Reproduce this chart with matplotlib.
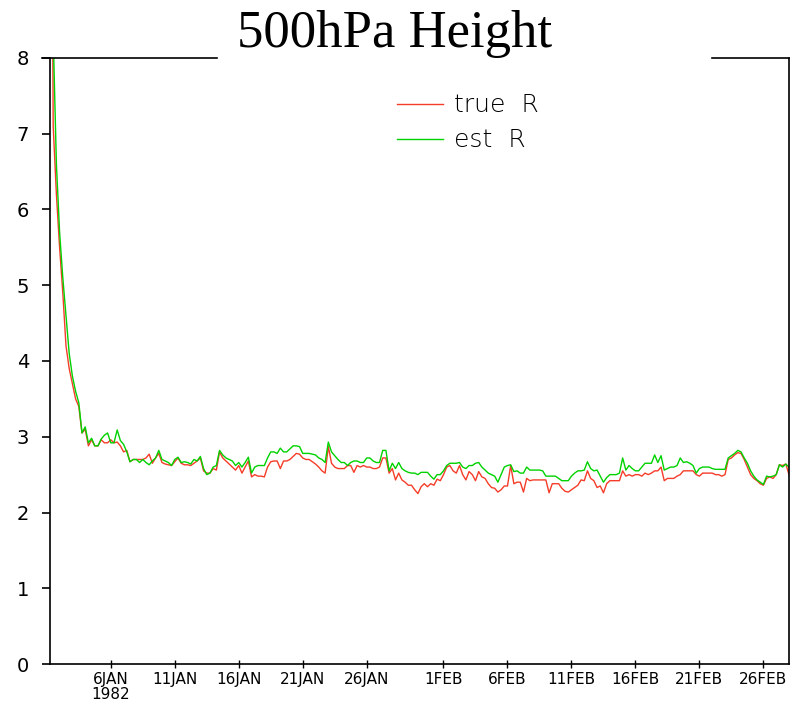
import numpy as np
import matplotlib
matplotlib.use("Agg")
import matplotlib.pyplot as plt
from matplotlib.lines import Line2D

# 6-hourly values, 1JAN1982 06Z .. 28FEB1982 00Z
true_r = [15, 7.1, 6.2, 5.5, 4.9, 4.2, 3.9, 3.7,
          3.5, 3.4, 3.05, 3.1, 2.88, 2.96, 2.88, 2.88,
          2.96, 2.92, 2.92, 2.96, 2.92, 2.93, 2.88, 2.8,
          2.82, 2.67, 2.7, 2.7, 2.7, 2.7, 2.72, 2.77,
          2.65, 2.72, 2.78, 2.66, 2.64, 2.63, 2.62, 2.67,
          2.72, 2.65, 2.63, 2.63, 2.62, 2.65, 2.68, 2.72,
          2.55, 2.52, 2.52, 2.58, 2.56, 2.8, 2.72, 2.68,
          2.64, 2.6, 2.56, 2.62, 2.52, 2.6, 2.68, 2.47,
          2.5, 2.48, 2.48, 2.47, 2.6, 2.67, 2.68, 2.68,
          2.58, 2.68, 2.68, 2.7, 2.74, 2.78, 2.77, 2.72,
          2.7, 2.7, 2.67, 2.64, 2.6, 2.55, 2.52, 2.87,
          2.65, 2.6, 2.58, 2.58, 2.58, 2.62, 2.62, 2.53,
          2.62, 2.6, 2.62, 2.6, 2.6, 2.58, 2.58, 2.6,
          2.72, 2.72, 2.52, 2.58, 2.43, 2.52, 2.43, 2.4,
          2.36, 2.36, 2.3, 2.25, 2.34, 2.38, 2.34, 2.38,
          2.36, 2.44, 2.42, 2.5, 2.6, 2.62, 2.55, 2.52,
          2.62, 2.5, 2.43, 2.54, 2.5, 2.42, 2.54, 2.47,
          2.45, 2.38, 2.33, 2.32, 2.27, 2.3, 2.35, 2.35,
          2.62, 2.38, 2.4, 2.4, 2.27, 2.45, 2.42, 2.43,
          2.43, 2.43, 2.43, 2.43, 2.26, 2.38, 2.38, 2.38,
          2.32, 2.28, 2.27, 2.3, 2.33, 2.36, 2.43, 2.42,
          2.55, 2.45, 2.42, 2.33, 2.35, 2.26, 2.38, 2.42,
          2.42, 2.42, 2.42, 2.55, 2.48, 2.5, 2.48, 2.5,
          2.5, 2.48, 2.52, 2.5, 2.52, 2.55, 2.55, 2.6,
          2.42, 2.45, 2.45, 2.45, 2.48, 2.5, 2.55, 2.55,
          2.55, 2.55, 2.5, 2.48, 2.52, 2.52, 2.52, 2.52,
          2.5, 2.5, 2.48, 2.5, 2.7, 2.72, 2.76, 2.79,
          2.78, 2.7, 2.6, 2.5, 2.45, 2.42, 2.38, 2.36,
          2.45, 2.47, 2.45, 2.5, 2.63, 2.62, 2.64, 2.5]

est_r = [30, 8.3, 6.6, 5.7, 5.1, 4.6, 4.1, 3.8,
         3.6, 3.45, 3.05, 3.13, 2.92, 2.98, 2.88, 2.88,
         2.97, 3.02, 3.05, 2.92, 2.92, 3.09, 2.95, 2.9,
         2.8, 2.67, 2.7, 2.7, 2.66, 2.7, 2.66, 2.63,
         2.68, 2.72, 2.82, 2.7, 2.68, 2.66, 2.62, 2.7,
         2.73, 2.66, 2.67, 2.66, 2.64, 2.7, 2.68, 2.74,
         2.58, 2.5, 2.52, 2.6, 2.62, 2.82, 2.76, 2.72,
         2.7, 2.68, 2.62, 2.66, 2.6, 2.66, 2.73, 2.52,
         2.6, 2.62, 2.62, 2.62, 2.72, 2.8, 2.8, 2.78,
         2.85, 2.8, 2.8, 2.84, 2.88, 2.88, 2.87, 2.78,
         2.78, 2.78, 2.77, 2.76, 2.72, 2.7, 2.66, 2.93,
         2.8, 2.75, 2.7, 2.66, 2.66, 2.62, 2.66, 2.68,
         2.68, 2.66, 2.66, 2.72, 2.72, 2.68, 2.66, 2.66,
         2.82, 2.82, 2.55, 2.65, 2.58, 2.66, 2.58, 2.55,
         2.53, 2.52, 2.52, 2.5, 2.53, 2.53, 2.53, 2.48,
         2.44, 2.5, 2.5, 2.55, 2.62, 2.65, 2.65, 2.65,
         2.66, 2.6, 2.58, 2.62, 2.62, 2.65, 2.66, 2.6,
         2.56, 2.52, 2.5, 2.48, 2.4, 2.5, 2.6, 2.62,
         2.63, 2.54, 2.55, 2.52, 2.52, 2.6, 2.56, 2.56,
         2.56, 2.56, 2.55, 2.48, 2.48, 2.48, 2.48, 2.45,
         2.42, 2.42, 2.42, 2.48, 2.52, 2.55, 2.55, 2.56,
         2.67, 2.58, 2.55, 2.56, 2.48, 2.4, 2.46, 2.5,
         2.5, 2.5, 2.52, 2.72, 2.56, 2.62, 2.58, 2.55,
         2.55, 2.6, 2.65, 2.65, 2.65, 2.76, 2.66, 2.75,
         2.56, 2.58, 2.6, 2.6, 2.62, 2.72, 2.66, 2.67,
         2.65, 2.62, 2.52, 2.58, 2.6, 2.6, 2.6, 2.58,
         2.57, 2.57, 2.57, 2.57, 2.72, 2.75, 2.78, 2.82,
         2.8, 2.72, 2.65, 2.55, 2.48, 2.43, 2.4, 2.37,
         2.48, 2.47, 2.48, 2.5, 2.63, 2.6, 2.64, 2.6]

tick_days = [5, 10, 15, 20, 25, 31, 36, 41, 46, 51, 56]
tick_labels = ['6JAN\n1982', '11JAN', '16JAN', '21JAN', '26JAN',
               '1FEB', '6FEB', '11FEB', '16FEB', '21FEB', '26FEB']

t_red = 0.25 + 0.25 * np.arange(len(true_r))
t_grn = 0.25 + 0.25 * np.arange(len(est_r))

W, H = 793, 706
fig = plt.figure(figsize=(W / 100, H / 100), dpi=100)
ax = fig.add_axes([50 / W, 1 - 664 / H, (789 - 50) / W, (664 - 58) / H])

ax.plot(t_red, true_r, color='#f53c28', lw=1.0)
ax.plot(t_grn, est_r, color='#00d200', lw=1.0)

ax.set_xlim(0.25, 58.0)
ax.set_ylim(0, 8)
ax.set_yticks(range(9))
ax.set_xticks(tick_days)
ax.set_xticklabels(tick_labels, fontsize=11, linespacing=0.95)
ax.tick_params(axis='y', direction='out', length=6, width=1.2, pad=9, labelsize=14)
ax.tick_params(axis='x', direction='inout', length=6, width=1.0, pad=3)
for s in ax.spines.values():
  s.set_linewidth(1.2)
ax.spines['top'].set_visible(False)

# top frame line has a gap under the title
ax.plot([-0.011, (217 - 50) / 739], [1, 1], color='black', lw=1.2,
        transform=ax.transAxes, clip_on=False)
ax.plot([(712 - 50) / 739, 1.0], [1, 1], color='black', lw=1.2,
        transform=ax.transAxes, clip_on=False)

fig.text(395 / W, 1 - 47 / H, '500hPa Height', ha='center', va='baseline',
         fontsize=38, family='Liberation Serif')

# legend
fig.add_artist(Line2D([397 / W, 443 / W], [1 - 104 / H] * 2, color='#f53c28', lw=1.0))
fig.add_artist(Line2D([397 / W, 443 / W], [1 - 139 / H] * 2, color='#00d200', lw=1.0))
fig.text(454 / W, 1 - 105 / H, 'true  R', va='center', fontsize=18, fontweight='light')
fig.text(454 / W, 1 - 140 / H, 'est  R', va='center', fontsize=18, fontweight='light')

fig.savefig('out.png', dpi=100)
